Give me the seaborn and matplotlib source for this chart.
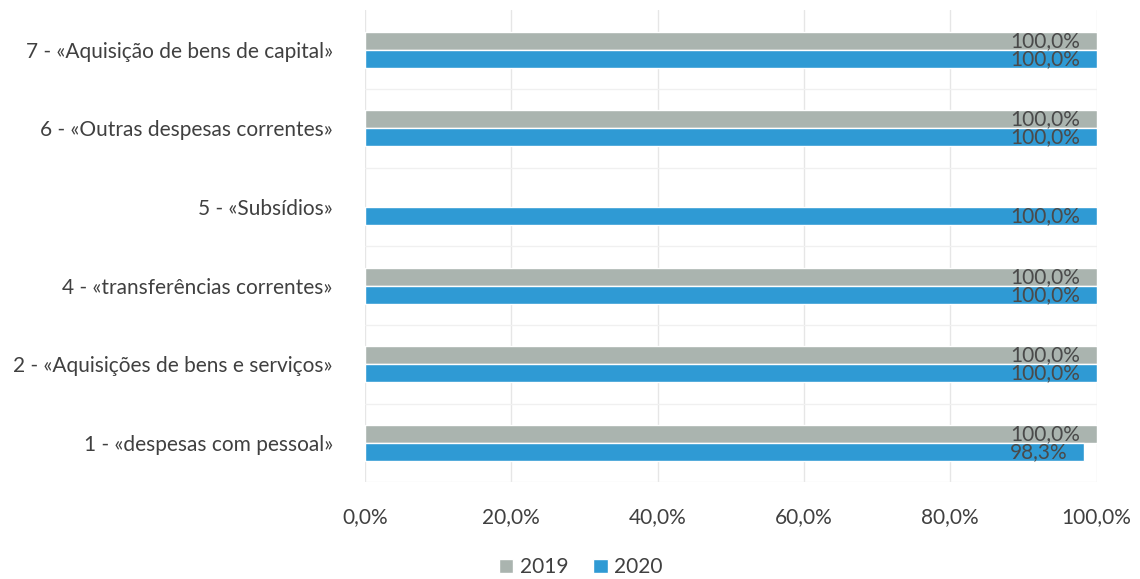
import numpy as np
import pandas as pd
import matplotlib
matplotlib.use("Agg")
import matplotlib.pyplot as plt
import seaborn as sns
from matplotlib.ticker import FuncFormatter, MultipleLocator

categories = [
    "7 - «Aquisição de bens de capital»",
    "6 - «Outras despesas correntes»",
    "5 - «Subsídios»",
    "4 - «transferências correntes»",
    "2 - «Aquisições de bens e serviços»",
    "1 - «despesas com pessoal»",
]
values_2019 = [100.0, 100.0, np.nan, 100.0, 100.0, 100.0]
values_2020 = [100.0, 100.0, 100.0, 100.0, 100.0, 98.3]
series = ["2019", "2020"]
colors = ["#aab4af", "#2f9ad4"]

df = pd.DataFrame({
    "cat": categories * 2,
    "ano": [series[0]] * len(categories) + [series[1]] * len(categories),
    "val": values_2019 + values_2020,
})

sns.set_theme(style="white")
plt.rcParams["font.family"] = ["Lato", "DejaVu Sans"]

FS = 15

fig = plt.figure(figsize=(11.4, 5.79), dpi=100)
ax = fig.add_axes([0.32, 0.167, 0.642, 0.815])

sns.barplot(data=df, y="cat", x="val", hue="ano", order=categories,
            hue_order=series, palette=colors, orient="h", width=0.46,
            saturation=1, ax=ax, legend=True)

def fmt(v):
    return f"{v:.1f}%".replace(".", ",")

for cont in ax.containers:
    labels = [fmt(b.get_width()) if np.isfinite(b.get_width()) and b.get_width() > 0 else "" for b in cont]
    texts = ax.bar_label(cont, labels=labels, padding=-12, fontsize=FS, color="#4a4a4a")
    for t in texts:
        t.set_ha("right")

ax.set_xlim(0, 100)
ax.set_ylim(len(categories) - 0.5, -0.5)
ax.xaxis.set_major_locator(MultipleLocator(20))
ax.xaxis.set_major_formatter(FuncFormatter(lambda v, p: fmt(v)))
ax.set_xlabel("")
ax.set_ylabel("")
ax.tick_params(axis="x", labelsize=FS, colors="#404040", length=0, pad=18)
ax.tick_params(axis="y", labelsize=FS, colors="#404040", length=0, pad=23)
ax.grid(axis="x", color="#e6e6e6", linewidth=1)
ax.set_yticks(np.arange(len(categories)) + 0.5, minor=True)
ax.grid(axis="y", which="minor", color="#f0f0f0", linewidth=1)
ax.set_axisbelow(True)
for s in ax.spines.values():
    s.set_visible(False)

ax.legend(loc="upper center", bbox_to_anchor=(0.295, -0.15), ncol=2, frameon=False,
          fontsize=FS, handlelength=0.7, handleheight=0.7, handletextpad=0.3,
          columnspacing=1.2, labelcolor="#404040", borderaxespad=0, borderpad=0.2)

fig.savefig("out.png", dpi=100)
